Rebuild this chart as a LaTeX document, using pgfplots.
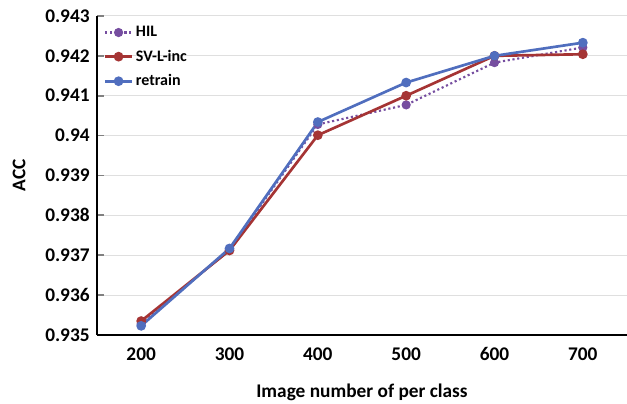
\documentclass[border=0pt]{standalone}
\usepackage{fontspec}
\setmainfont{Carlito}
\usepackage{pgfplots}
\pgfplotsset{compat=1.18}
\definecolor{hilc}{RGB}{118,78,160}
\definecolor{svc}{RGB}{165,52,52}
\definecolor{rtc}{RGB}{80,110,190}
\begin{document}
\begin{tikzpicture}
\path[use as bounding box] (0,0) rectangle (470.25pt,302.25pt);
\begin{axis}[
  at={(72.75pt,50.99pt)}, anchor=south west,
  scale only axis,
  width=397.5pt, height=239.3pt,
  xmin=150, xmax=750,
  ymin=0.935, ymax=0.943,
  xtick={200,300,400,500,600,700},
  extra x ticks={250,350,450,550,650},
  extra x tick labels={},
  extra x tick style={major tick length=5pt, grid=none},
  xtick style={draw=none},
  ytick={0.935,0.936,...,0.943},
  yticklabels={0.935,0.936,0.937,0.938,0.939,0.94,0.941,0.942,0.943},
  ymajorgrids,
  grid style={gray!25, line width=0.8pt},
  axis x line*=bottom, axis y line*=left,
  axis line style={line width=1.3pt, -},
  tick align=inside,
  major tick length=5pt,
  ytick style={line width=1.3pt},
  every extra x tick/.style={tick style={line width=1.3pt,black}},
  tick label style={font=\bfseries\fontsize{14.5}{16}\selectfont},
  yticklabel style={xshift=-2pt},
  xticklabel style={yshift=-6pt},
  /pgf/number format/assume math mode=true,
  xlabel={\bfseries\fontsize{14.5}{16}\selectfont Image number of per class},
  ylabel={\bfseries\fontsize{14.5}{16}\selectfont ACC},
  xlabel style={yshift=-10pt},
  ylabel style={yshift=8pt},
  legend style={draw=none, fill=none, at={(0.005,0.985)}, anchor=north west,
    font=\bfseries\fontsize{12}{13}\selectfont, row sep=4.5pt},
  legend cell align=left,
  legend image code/.code={
    \draw[#1] (0pt,0pt) -- (20pt,0pt);
    \draw[#1, solid] plot coordinates {(10pt,0pt)};
  },
  clip=false,
]
\addplot[hilc, line width=1.6pt, dotted, mark=*, mark size=2.6pt, mark options={solid}]
  coordinates {(200,0.93528) (300,0.93714) (400,0.94028) (500,0.94077) (600,0.94183) (700,0.94221)};
\addlegendentry{HIL}
\addplot[svc, line width=2pt, mark=*, mark size=2.6pt]
  coordinates {(200,0.93535) (300,0.93712) (400,0.94001) (500,0.94100) (600,0.94200) (700,0.94204)};
\addlegendentry{SV-L-inc}
\addplot[rtc, line width=2pt, mark=*, mark size=2.6pt]
  coordinates {(200,0.93523) (300,0.93717) (400,0.94034) (500,0.94133) (600,0.94200) (700,0.94233)};
\addlegendentry{retrain}
\end{axis}
\end{tikzpicture}
\end{document}
